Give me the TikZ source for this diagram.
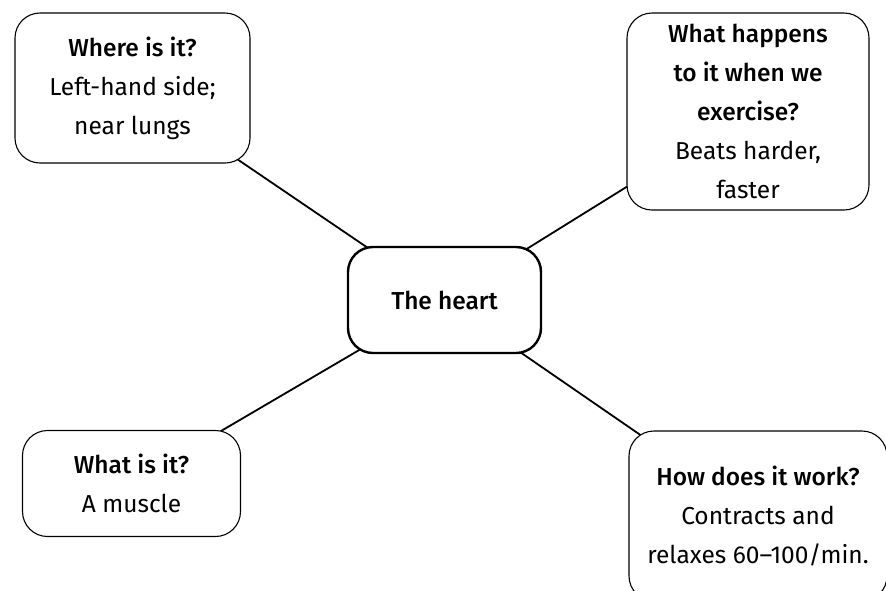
\documentclass[tikz,border=0pt]{standalone}
\usepackage{fontspec}
\setmainfont{Fira Sans}
\newfontfamily\headfont{Fira Sans Medium}
\usetikzlibrary{backgrounds}
\begin{document}
\begin{tikzpicture}[x=1pt,y=-1pt,
  every node/.style={font=\fontsize{24.5}{39}\selectfont},
  card/.style={draw, fill=white, rounded corners=25pt, line width=1.1pt,
    inner sep=0pt, align=center},
  hub/.style={card, line width=2.4pt},
  link/.style={line width=1.8pt}]
\useasboundingbox (0,0) rectangle (886,590);

\node[hub, minimum width=193pt, minimum height=106pt] (heart) at (444.5,300)
  {{\headfont The heart}};

\node[card, minimum width=235pt, minimum height=150pt] (where) at (132.5,88)
  {{\headfont Where is it?}\\Left-hand side;\\near lungs};

\node[card, minimum width=242pt, minimum height=197pt] (exercise) at (748,111.5)
  {{\headfont What happens}\\{\headfont to it when we}\\{\headfont exercise?}\\Beats harder,\\faster};

\node[card, minimum width=218pt, minimum height=106pt] (what) at (131.5,483.5)
  {{\headfont What is it?}\\A muscle};

\node[card, minimum width=258pt, minimum height=170pt] (how) at (758,516)
  {{\headfont How does it work?}\\Contracts and\\relaxes 60--100/min.};

\begin{scope}[on background layer]
  \draw[link] (heart.center) -- (where.center);
  \draw[link] (heart.center) -- (exercise.center);
  \draw[link] (heart.center) -- (what.center);
  \draw[link] (heart.center) -- (how.center);
\end{scope}
\end{tikzpicture}
\end{document}
